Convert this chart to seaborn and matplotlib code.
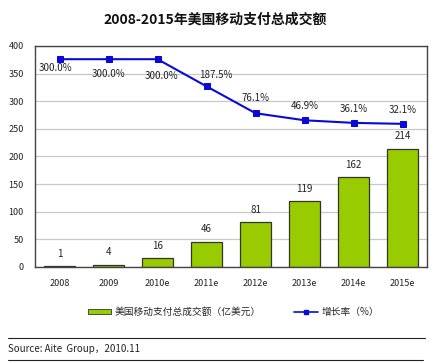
import numpy as np
import pandas as pd
import matplotlib
matplotlib.use("Agg")
import matplotlib.pyplot as plt
import seaborn as sns
from matplotlib.lines import Line2D
from matplotlib.patches import Patch

# ---- data ----
years = ["2008", "2009", "2010e", "2011e", "2012e", "2013e", "2014e", "2015e"]
amount = [1, 4, 16, 46, 81, 119, 162, 214]          # 亿美元
growth = [300.0, 300.0, 300.0, 187.5, 76.1, 46.9, 36.1, 32.1]  # %

title = "2008-2015年美国移动支付总成交额"
bar_label = "美国移动支付总成交额（亿美元）"
line_label = "增长率（%）"
source = "Source: Aite  Group，2010.11"

df = pd.DataFrame({"year": years, "amount": amount, "growth": growth})

sns.set_theme(style="white")
plt.rcParams["font.family"] = ["Noto Sans CJK SC", "DejaVu Sans"]

fig = plt.figure(figsize=(4.43, 3.63), dpi=100)
ax = fig.add_axes([0.079, 0.2645, 0.885, 0.609])

bar_color = "#99cc00"
line_color = "#0a0ad8"

sns.barplot(data=df, x="year", y="amount", color=bar_color, width=0.62,
            edgecolor="#333333", linewidth=0.9, saturation=1, ax=ax, zorder=2)
ax.set_ylim(0, 400)
ax.set_yticks(np.arange(0, 401, 50))
ax.yaxis.grid(True, color="#c8c8c8", linewidth=0.9, zorder=0)
ax.set_axisbelow(True)
ax.set_xlabel("")
ax.set_ylabel("")
ax.tick_params(axis="both", labelsize=6.5, colors="#222222", length=0)
ax.tick_params(axis="y", pad=8)
ax.tick_params(axis="x", pad=9)
for s in ax.spines.values():
    s.set_color("#444444")
    s.set_linewidth(1.0)

for i, v in enumerate(amount):
    ax.annotate(str(v), (i, v), xytext=(0, 9), textcoords="offset points",
                ha="center", va="center", fontsize=7, color="#222222")

# growth rate on hidden secondary axis
ax2 = ax.twinx()
sns.lineplot(x=np.arange(len(years)), y=growth, color=line_color, linewidth=1.5,
             marker="s", markersize=5, markeredgecolor=line_color, ax=ax2)
ax2.set_ylim(-561, 355)
ax2.set_yticks([])
ax2.set_ylabel("")
for s in ax2.spines.values():
    s.set_visible(False)
ax.set_xlim(-0.5, len(years) - 0.5)
ax2.set_xlim(-0.5, len(years) - 0.5)

offsets = [(-3, -6), (0, -11), (3, -12), (7, 8), (0, 11), (0, 10), (0, 10), (0, 10)]
for i, (g, off) in enumerate(zip(growth, offsets)):
    ax2.annotate(f"{g:.1f}%", (i, g), xytext=off, textcoords="offset points",
                 ha="center", va="center", fontsize=7, color="#222222")

fig.text(0.485, 0.945, title, ha="center", va="center", fontsize=10,
         fontweight="bold", color="#111111")

handles = [Patch(facecolor=bar_color, edgecolor="#333333", linewidth=0.6),
           Line2D([0], [0], color=line_color, marker="s", markersize=3.5, linewidth=1.2)]
fig.legend(handles, [bar_label, line_label], loc="center", bbox_to_anchor=(0.527, 0.14),
           ncol=2, frameon=False, fontsize=7, handlelength=2.4, handleheight=0.5,
           columnspacing=3.4, handletextpad=0.4)

fig.add_artist(Line2D([0.018, 0.96], [0.07, 0.07], color="#222222", linewidth=0.8))
fig.add_artist(Line2D([0.018, 0.955], [0.008, 0.008], color="#222222", linewidth=0.8))
fig.text(0.018, 0.038, source, ha="left", va="center", fontsize=7, color="#222222")

fig.savefig("out.png", dpi=100)
